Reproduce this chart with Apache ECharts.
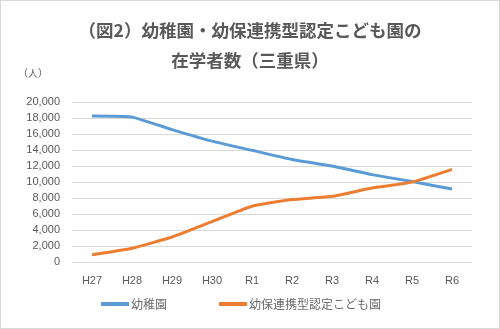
<!DOCTYPE html>
<html><head><meta charset="utf-8">
<script src="https://cdn.jsdelivr.net/npm/echarts@6/dist/echarts.min.js"></script>
<style>html,body{margin:0;padding:0;background:#fff}#c{width:500px;height:329px;box-sizing:border-box;border:1px solid #d9d9d9}</style>
</head><body><div id="c"></div>
<script>
const categories = ['H27','H28','H29','H30','R1','R2','R3','R4','R5','R6'];
const kindergarten = [18240, 18110, 16550, 15110, 13960, 12815, 11990, 10920, 10060, 9120];
const certified = [900, 1725, 3120, 5050, 6975, 7800, 8210, 9240, 9980, 11580];
const seriesNames = ['幼稚園', '幼保連携型認定こども園'];
const titleText = '（図2）幼稚園・幼保連携型認定こども園の\n在学者数（三重県）';
const unitLabel = '（人）';

const chart = echarts.init(document.getElementById('c'));
const fontLatin = '"Liberation Sans","Noto Sans CJK JP",sans-serif';
chart.setOption({
  animation: false,
  title: {
    text: titleText, left: 'center', top: 9,
    textStyle: {fontFamily: '"Noto Sans CJK JP",sans-serif', fontSize: 17.5, fontWeight: 'bold', color: '#595959', lineHeight: 30}
  },
  grid: {left: 71, right: 27, top: 101, bottom: 66},
  legend: {
    left: 95, top: 292, itemWidth: 28, itemHeight: 4, itemGap: 52, icon: 'rect',
    textStyle: {fontFamily: '"Noto Sans CJK JP",sans-serif', fontSize: 12, color: '#6a6a6a', padding: [0,0,0,-3]},
    data: seriesNames
  },
  xAxis: {
    type: 'category', data: categories, boundaryGap: true,
    axisLine: {show: false}, axisTick: {show: false},
    axisLabel: {fontFamily: fontLatin, fontSize: 11, color: '#595959', margin: 13}
  },
  yAxis: {
    type: 'value', min: 0, max: 20000, interval: 2000,
    name: unitLabel, nameLocation: 'end', nameGap: 24,
    nameTextStyle: {fontFamily: '"Noto Sans CJK JP",sans-serif', fontSize: 10, color: '#595959', align: 'right', padding: [0, 24, 0, 0]},
    axisLine: {show: false}, axisTick: {show: false},
    axisLabel: {fontFamily: fontLatin, fontSize: 11, color: '#595959', margin: 12,
      formatter: v => v.toLocaleString('en-US')},
    splitLine: {lineStyle: {color: '#d9d9d9', width: 1}}
  },
  series: [
    {name: seriesNames[0], type: 'line', data: kindergarten, smooth: 0.15, showSymbol: false,
     lineStyle: {color: '#5B9BD5', width: 3}, itemStyle: {color: '#5B9BD5'}},
    {name: seriesNames[1], type: 'line', data: certified, smooth: 0.15, showSymbol: false,
     lineStyle: {color: '#ED7D31', width: 3}, itemStyle: {color: '#ED7D31'}}
  ]
});
</script></body></html>
